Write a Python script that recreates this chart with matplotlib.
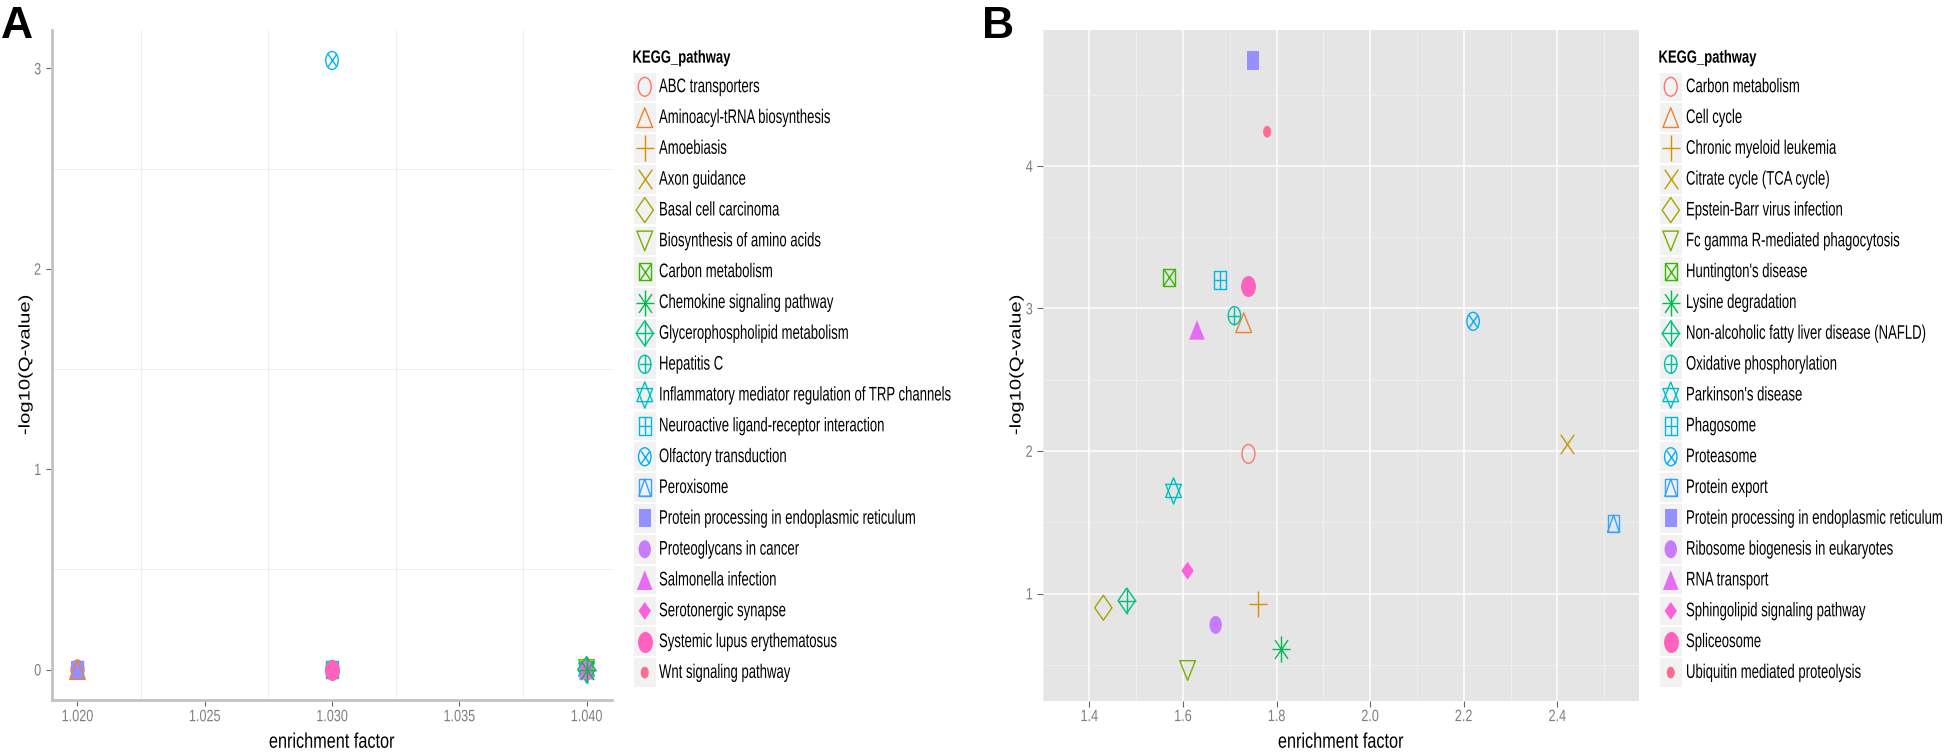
import matplotlib
matplotlib.use('Agg')
import matplotlib.pyplot as plt
import matplotlib.patheffects as pe
from matplotlib.markers import MarkerStyle
from matplotlib.patches import Rectangle
from matplotlib.text import Text
from matplotlib.transforms import Affine2D
import numpy as np

plt.rcParams['font.family'] = ['Liberation Sans', 'DejaVu Sans']

# ---- data, panel A ----
a_pathways = ['ABC transporters', 'Aminoacyl-tRNA biosynthesis', 'Amoebiasis', 'Axon guidance',
              'Basal cell carcinoma', 'Biosynthesis of amino acids', 'Carbon metabolism',
              'Chemokine signaling pathway', 'Glycerophospholipid metabolism', 'Hepatitis C',
              'Inflammatory mediator regulation of TRP channels',
              'Neuroactive ligand-receptor interaction', 'Olfactory transduction', 'Peroxisome',
              'Protein processing in endoplasmic reticulum', 'Proteoglycans in cancer',
              'Salmonella infection', 'Serotonergic synapse', 'Systemic lupus erythematosus',
              'Wnt signaling pathway']
a_factor = [1.02, 1.02, 1.04, 1.04, 1.04, 1.04, 1.04, 1.04, 1.04, 1.03,
            1.04, 1.03, 1.03, 1.02, 1.02, 1.04, 1.04, 1.04, 1.03, 1.03]
a_qvalue = [0, 0, 0, 0, 0, 0, 0, 0, 0, 0,
            0, 0, 3.04, 0, 0, 0, 0, 0, 0, 0]
a_draw_order = [0, 13, 14, 1, 11, 9, 19, 18, 12, 2, 3, 4, 5, 8, 10, 6, 15, 16, 17, 7]

# ---- data, panel B ----
b_pathways = ['Carbon metabolism', 'Cell cycle', 'Chronic myeloid leukemia',
              'Citrate cycle (TCA cycle)', 'Epstein-Barr virus infection',
              'Fc gamma R-mediated phagocytosis', "Huntington's disease", 'Lysine degradation',
              'Non-alcoholic fatty liver disease (NAFLD)', 'Oxidative phosphorylation',
              "Parkinson's disease", 'Phagosome', 'Proteasome', 'Protein export',
              'Protein processing in endoplasmic reticulum', 'Ribosome biogenesis in eukaryotes',
              'RNA transport', 'Sphingolipid signaling pathway', 'Spliceosome',
              'Ubiquitin mediated proteolysis']
b_factor = [1.74, 1.73, 1.76, 2.42, 1.43, 1.61, 1.57, 1.81, 1.48, 1.71,
            1.58, 1.68, 2.22, 2.52, 1.75, 1.67, 1.63, 1.61, 1.74, 1.78]
b_qvalue = [1.98, 2.90, 0.93, 2.05, 0.90, 0.46, 3.22, 0.61, 0.95, 2.95,
            1.72, 3.20, 2.91, 1.49, 4.74, 0.78, 2.85, 1.16, 3.16, 4.24]

a_xticks = [1.020, 1.025, 1.030, 1.035, 1.040]
a_xticklabels = ['1.020', '1.025', '1.030', '1.035', '1.040']
a_yticks = [0, 1, 2, 3]
b_xticks = [1.4, 1.6, 1.8, 2.0, 2.2, 2.4]
b_xticklabels = ['1.4', '1.6', '1.8', '2.0', '2.2', '2.4']
b_yticks = [1, 2, 3, 4]

hue20 = ['#F8766D', '#EA8331', '#D89000', '#C09B00', '#A3A500', '#7CAE00', '#39B600',
         '#00BB4E', '#00BF7D', '#00C1A3', '#00BFC4', '#00BAE0', '#00B0F6', '#35A2FF',
         '#9590FF', '#C77CFF', '#E76BF3', '#FA62DB', '#FF62BC', '#FF6C91']

W, H = 1946, 752
SY_MARK = 1.45   # the reference is stretched vertically
MK = 1.08        # overall marker scale
LW = 1.0
T = 0.866
C = T / 6

# ggplot shapes 1..20 as layers of (marker, width px, fill, y scale, y shift)
SHAPES = [
    [('o', 12, 0, 1, 0)],
    [('^', 14.5, 0, T, 0)],
    [('+', 16, 0, 1, 0)],
    [('x', 12.5, 0, 1, 0)],
    [('D', 16, 0, 1, 0)],
    [('v', 14.5, 0, T, 0)],
    [('s', 11, 0, 1, 0), ('x', 11, 0, 1, 0)],
    [('+', 16, 0, 1, 0), ('x', 12, 0, 1, 0)],
    [('D', 16, 0, 1, 0), ('+', 16, 0, 1, 0)],
    [('o', 11.5, 0, 1, 0), ('+', 11.5, 0, 1, 0)],
    [('^', 14.5, 0, T, C), ('v', 14.5, 0, T, -C)],
    [('s', 11, 0, 1, 0), ('+', 11, 0, 1, 0)],
    [('o', 11.5, 0, 1, 0), ('x', 8.1, 0, 1, 0)],
    [('s', 11, 0, 1, 0), ('^', 11, 0, 1, 0)],
    [('s', 11.5, 1, 1, 0)],
    [('o', 11.5, 1, 1, 0)],
    [('^', 14.5, 1, T, 0)],
    [('D', 11.5, 1, 1, 0)],
    [('o', 12.5, 2, 1, 0)],
    [('o', 7.5, 1, 1, 0)],
]


class VStretch(pe.AbstractPathEffect):
    # stretch text vertically around the middle of its cap height
    def __init__(self, sy):
        super().__init__()
        self.sy = sy

    def draw_path(self, renderer, gc, tpath, affine, rgbFace=None):
        ext = tpath.get_extents()
        px, py = affine.transform(((ext.x0 + ext.x1) / 2, 36.0))
        st = Affine2D().translate(-px, -py).scale(1, self.sy).translate(px, py)
        renderer.draw_path(gc, tpath, affine + st, rgbFace)


def draw_shape(ax, x, y, shape, color, z):
    for m, px, fill, sy, dy in SHAPES[shape]:
        ms = px * MK * 72 / 100
        if m == 'D':
            ms /= np.sqrt(2)
        mk = MarkerStyle(m, transform=Affine2D().scale(1, sy).translate(0, dy).scale(1, SY_MARK))
        if m in ('+', 'x'):
            ax.scatter([x], [y], s=ms ** 2, marker=mk, color=color, linewidths=LW, zorder=z)
        elif fill == 0:
            ax.scatter([x], [y], s=ms ** 2, marker=mk, facecolors='none', edgecolors=color,
                       linewidths=LW, zorder=z)
        elif fill == 1:
            ax.scatter([x], [y], s=ms ** 2, marker=mk, facecolors=color, edgecolors='none',
                       linewidths=0, zorder=z)
        else:
            ax.scatter([x], [y], s=ms ** 2, marker=mk, facecolors=color, edgecolors=color,
                       linewidths=LW, zorder=z)


def expand(vals, f=0.05):
    lo, hi = min(vals), max(vals)
    pad = (hi - lo) * f
    return lo - pad, hi + pad


def px_axes(fig, left, top, right, bottom):
    return fig.add_axes([left / W, 1 - bottom / H, (right - left) / W, (bottom - top) / H])


fig = plt.figure(figsize=(W / 100, H / 100), dpi=100)
fig.patch.set_facecolor('white')

# ---- panel A ----
axa = px_axes(fig, 52, 30, 612, 700)
axa.set_facecolor('white')
axa.set_xlim(*expand(a_factor))
axa.set_ylim(*expand(a_qvalue))
axa.set_xticks(a_xticks)
axa.set_xticklabels(a_xticklabels)
axa.set_yticks(a_yticks)
axa.set_xticks((np.array(a_xticks[:-1]) + np.array(a_xticks[1:])) / 2, minor=True)
axa.set_yticks((np.array(a_yticks[:-1]) + np.array(a_yticks[1:])) / 2, minor=True)
axa.grid(which='minor', color='#EFEFEF', linewidth=0.8)
axa.set_axisbelow(True)
for s in ['top', 'right']:
    axa.spines[s].set_visible(False)
for s in ['left', 'bottom']:
    axa.spines[s].set_color('#C2C2C2')
    axa.spines[s].set_linewidth(2.0)
axa.tick_params(which='major', direction='out', length=4.3, width=0.8, color='#666666',
                labelsize=9.1, labelcolor='#7F7F7F', pad=3.5)
axa.tick_params(which='minor', length=0)
for z, i in enumerate(a_draw_order):
    draw_shape(axa, a_factor[i], a_qvalue[i], i, hue20[i], 3 + z)

# ---- panel B ----
axb = px_axes(fig, 1042.5, 30, 1639, 701)
axb.set_facecolor('#E5E5E5')
axb.set_xlim(*expand(b_factor))
axb.set_ylim(*expand(b_qvalue))
axb.set_xticks(b_xticks)
axb.set_xticklabels(b_xticklabels)
axb.set_yticks(b_yticks)
bx_minor = np.append(np.array(b_xticks) - 0.1, b_xticks[-1] + 0.1)
by_minor = np.append(np.array(b_yticks) - 0.5, b_yticks[-1] + 0.5)
axb.set_xticks(bx_minor, minor=True)
axb.set_yticks(by_minor, minor=True)
axb.grid(which='major', color='white', linewidth=1.1)
axb.grid(which='minor', color='#F2F2F2', linewidth=0.55)
axb.set_axisbelow(True)
for s in axb.spines.values():
    s.set_visible(False)
axb.tick_params(which='major', direction='out', length=4.0, width=0.8, color='#666666',
                labelsize=9.1, labelcolor='#7F7F7F', pad=3.0)
axb.tick_params(which='minor', length=0)
for i in range(len(b_pathways)):
    draw_shape(axb, b_factor[i], b_qvalue[i], i, hue20[i], 3 + i)

# ---- overlay in pixel coordinates: titles, legends, panel letters ----
ov = fig.add_axes([0, 0, 1, 1])
ov.set_xlim(0, W)
ov.set_ylim(H, 0)
ov.axis('off')
ov.patch.set_visible(False)

ov.text(332, 746, 'enrichment factor', fontsize=11.7, ha='center', va='baseline')
ov.text(1341, 746, 'enrichment factor', fontsize=11.7, ha='center', va='baseline')
ov.text(25, 365, '-log10(Q-value)', fontsize=11.2, rotation=90, ha='center', va='center')
ov.text(1016, 365, '-log10(Q-value)', fontsize=11.2, rotation=90, ha='center', va='center')

lab_a = ov.text(1, 38, 'A', fontsize=32, fontweight='bold', ha='left', va='baseline')
lab_b = ov.text(982, 38, 'B', fontsize=32, fontweight='bold', ha='left', va='baseline')

legend_texts = []
title_texts = []
y0, dy = 86.8, 30.83
for names, kx, tx in [(a_pathways, 634, 659), (b_pathways, 1660, 1686)]:
    title_texts.append(ov.text(kx - 1.5, 58, 'KEGG_pathway', fontsize=9.4, fontweight='bold',
                               ha='left', va='center'))
    for i, name in enumerate(names):
        yc = y0 + i * dy
        ov.add_patch(Rectangle((kx, yc - 14.3), 21.5, 28.6, facecolor='#F2F2F2',
                               edgecolor='none', zorder=1))
        draw_shape(ov, kx + 10.75, yc, i, hue20[i], 3)
        legend_texts.append(ov.text(tx, yc, name, fontsize=9.45, ha='left', va='center'))

fig.canvas.draw()
for t in fig.findobj(Text):
    if not t.get_text() or t in (lab_a, lab_b):
        continue
    if t in legend_texts:
        t.set_path_effects([VStretch(1.5)])
    elif t in title_texts:
        t.set_path_effects([VStretch(1.35)])
    else:
        t.set_path_effects([VStretch(1.3)])

fig.savefig('out.png', dpi=100, facecolor='white')
